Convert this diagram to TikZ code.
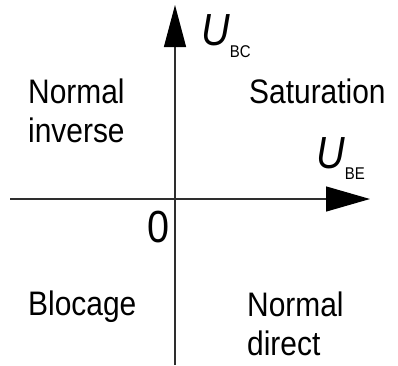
\documentclass[tikz,border=0pt]{standalone}
\usepackage{fontspec}
\setmainfont{Liberation Sans}[FakeStretch=0.88]
\usetikzlibrary{arrows.meta}
\definecolor{ink}{HTML}{000000}
\definecolor{axis}{HTML}{2E2E2E}

\begin{document}
\begin{tikzpicture}[x=1pt, y=-1pt,
    region/.style={ink, inner sep=0pt, align=left, anchor=base west,
      font=\fontsize{34}{39}\selectfont},
    axislabel/.style={ink, inner sep=0pt, anchor=base west,
      font=\fontsize{45}{45}\selectfont}]
      \useasboundingbox (0, 0) rectangle (398, 365);
      \coordinate (origin) at (175, 199);
      \coordinate (west) at (10, 199);
      \coordinate (east) at (370, 199);
      \coordinate (south) at (175, 365);
      \coordinate (north) at (175, 5);
      \draw[axis, line width=1.3pt, -{Triangle[length=44pt, width=25pt, color=ink]}] (west) -- (east);
      \draw[axis, line width=1.3pt, -{Triangle[length=42pt, width=22pt, color=ink]}] (south) -- (north);
      % axis names with small subscripts
      \node[axislabel] (ubc) at (201, 45) {\itshape U\raisebox{-12pt}{\fontsize{17}{17}\upshape\selectfont BC}};
      \node[axislabel] (ube) at (316, 168) {\itshape U\raisebox{-11pt}{\fontsize{17}{17}\upshape\selectfont BE}};
      \node[axislabel] (zero) at (147, 242) {0};
      % the four regions
      \node[region] (inverse) at (28, 142) {Normal\\inverse};
      \node[region] (saturation) at (249, 103) {Saturation};
      \node[region] (blocage) at (28, 315) {Blocage};
      \node[region] (direct) at (247, 355) {Normal\\direct};
    \end{tikzpicture}
\end{document}
